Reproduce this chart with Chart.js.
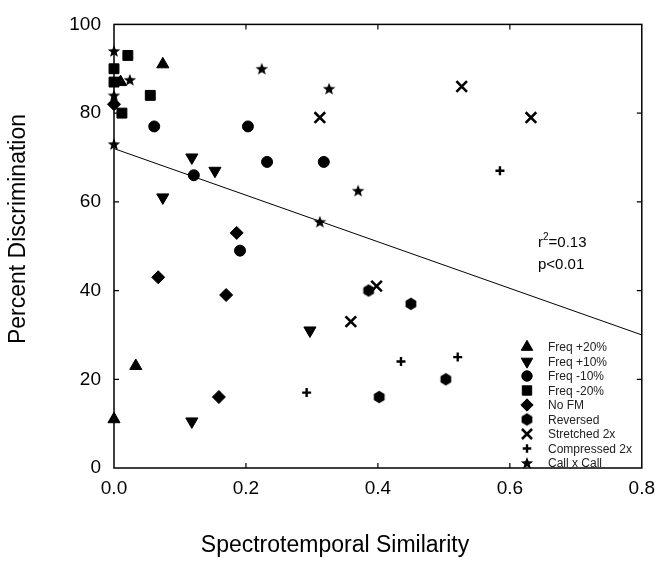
<!DOCTYPE html>
<html>
<head>
<meta charset="utf-8">
<script src="https://cdn.jsdelivr.net/npm/chart.js@4/dist/chart.umd.min.js"></script>
<style>
  html, body { margin: 0; padding: 0; background: #fff; }
  #wrap { width: 664px; height: 587px; position: relative; }
</style>
</head>
<body>
<div id="wrap"><canvas id="simChart"></canvas></div>
<script>
// Percent discrimination vs spectrotemporal similarity (scatter + regression)
const FONT = "'Liberation Sans', Arial, sans-serif";

const seriesNames = ['Freq +20%', 'Freq +10%', 'Freq -10%', 'Freq -20%', 'No FM',
  'Reversed', 'Stretched 2x', 'Compressed 2x', 'Call x Call'];

// [similarity, percent] pairs
const freqUp20 = [[0.074, 91], [0.01, 87], [0.033, 23], [0.0, 11]];
const freqUp10 = [[0.118, 70], [0.153, 67], [0.074, 61], [0.297, 31], [0.118, 10.5]];
const freqDn10 = [[0.061, 77], [0.203, 77], [0.232, 69], [0.121, 66], [0.318, 69], [0.191, 49]];
const freqDn20 = [[0.021, 93], [0.0, 90], [0.0, 87], [0.055, 84], [0.012, 80]];
const noFM = [[0.0, 82], [0.186, 53], [0.067, 43], [0.17, 39], [0.159, 16]];
const reversed = [[0.386, 40], [0.45, 37], [0.503, 20], [0.402, 16]];
const stretched = [[0.527, 86], [0.312, 79], [0.632, 79], [0.398, 41], [0.359, 33]];
const compressed = [[0.585, 67], [0.435, 24], [0.521, 25], [0.292, 17]];
const callXCall = [[0.0, 94], [0.024, 87.5], [0.0, 84], [0.0, 73], [0.224, 90],
  [0.326, 85.5], [0.37, 62.5], [0.312, 55.5]];

// regression line end points
const fitX = [0, 0.8];
const fitY = [72, 30];

const xTicks = [0, 0.2, 0.4, 0.6, 0.8];
const yTicks = [0, 20, 40, 60, 80, 100];

function shapeCanvas(size, draw) {
  const c = document.createElement('canvas');
  c.width = size; c.height = size;
  const g = c.getContext('2d');
  g.fillStyle = '#000';
  draw(g, size / 2);
  return c;
}

// filled five point star
const starImg = shapeCanvas(16, (g, m) => {
  g.beginPath();
  for (let i = 0; i < 10; i++) {
    const r = i % 2 ? 2.8 : 6.6;
    const a = -Math.PI / 2 + i * Math.PI / 5;
    g.lineTo(m + r * Math.cos(a), m + 0.5 + r * Math.sin(a));
  }
  g.closePath();
  g.fill();
});

// filled hexagon (Reversed)
const hexImg = shapeCanvas(14, (g, m) => {
  g.beginPath();
  for (let i = 0; i < 6; i++) {
    const a = -Math.PI / 2 + i * Math.PI / 3;
    g.lineTo(m + 6.2 * Math.cos(a), m + 6.2 * Math.sin(a));
  }
  g.closePath();
  g.fill();
});

const styles = [
  { pointStyle: 'triangle', radius: 7, rotation: 0, borderWidth: 1 },
  { pointStyle: 'triangle', radius: 7, rotation: 180, borderWidth: 1 },
  { pointStyle: 'circle', radius: 5.5, rotation: 0, borderWidth: 1 },
  { pointStyle: 'rect', radius: 7, rotation: 0, borderWidth: 1 },
  { pointStyle: 'rectRot', radius: 6.5, rotation: 0, borderWidth: 1 },
  { pointStyle: hexImg, radius: 6, rotation: 0, borderWidth: 1 },
  { pointStyle: 'crossRot', radius: 7.5, rotation: 0, borderWidth: 2.6 },
  { pointStyle: 'cross', radius: 4.5, rotation: 0, borderWidth: 2.4 },
  { pointStyle: starImg, radius: 7, rotation: 0, borderWidth: 1 },
];

const seriesData = [freqUp20, freqUp10, freqDn10, freqDn20, noFM, reversed,
  stretched, compressed, callXCall];

const pointSets = seriesData.map((arr, i) => ({
  label: seriesNames[i],
  data: arr.map(([x, y]) => ({ x, y })),
  pointStyle: styles[i].pointStyle,
  pointRadius: styles[i].radius,
  pointRotation: styles[i].rotation,
  pointBorderWidth: styles[i].borderWidth,
  pointBackgroundColor: '#000',
  pointBorderColor: '#000',
  showLine: false,
  clip: false, // markers sit on the axis at x = 0
}));

// frame with inward ticks on all four sides (under the markers)
const framePlugin = {
  id: 'frame',
  beforeDatasetsDraw(chart) {
    const { ctx, chartArea: a, scales } = chart;
    ctx.save();
    ctx.strokeStyle = '#000';
    ctx.lineWidth = 1.5;
    ctx.strokeRect(a.left, a.top, a.right - a.left, a.bottom - a.top);
    ctx.lineWidth = 1.2;
    ctx.beginPath();
    xTicks.slice(1, -1).forEach((v) => {
      const px = scales.x.getPixelForValue(v);
      ctx.moveTo(px, a.bottom); ctx.lineTo(px, a.bottom - 5);
      ctx.moveTo(px, a.top); ctx.lineTo(px, a.top + 5);
    });
    yTicks.slice(1, -1).forEach((v) => {
      const py = scales.y.getPixelForValue(v);
      ctx.moveTo(a.left, py); ctx.lineTo(a.left + 5, py);
      ctx.moveTo(a.right, py); ctx.lineTo(a.right - 5, py);
    });
    ctx.stroke();
    ctx.restore();
  },
};

// axis titles, legend, annotation
const decorPlugin = {
  id: 'decor',
  afterDraw(chart) {
    const { ctx } = chart;
    ctx.save();
    ctx.fillStyle = '#000';
    ctx.font = `23px ${FONT}`;
    ctx.textAlign = 'center';
    ctx.textBaseline = 'middle';
    ctx.fillText('Spectrotemporal Similarity', 335, 546);
    ctx.save();
    ctx.translate(19, 229);
    ctx.rotate(-Math.PI / 2);
    ctx.fillText('Percent Discrimination', 0, 0);
    ctx.restore();

    // r^2 / p annotation
    ctx.textAlign = 'left';
    ctx.font = `15px ${FONT}`;
    const ax = 538;
    ctx.fillText('r', ax, 243);
    const rw = ctx.measureText('r').width;
    ctx.font = `10px ${FONT}`;
    ctx.fillText('2', ax + rw, 237);
    const sw = ctx.measureText('2').width;
    ctx.font = `15px ${FONT}`;
    ctx.fillText('=0.13', ax + rw + sw, 243);
    ctx.fillText('p<0.01', ax, 265);

    // legend inside the plot
    const lx = 527, tx = 548, ly0 = 347, step = 14.5;
    chart.data.datasets.forEach((ds, i) => {
      if (i >= seriesNames.length) return;
      const y = ly0 + i * step;
      ctx.fillStyle = '#000';
      ctx.strokeStyle = '#000';
      ctx.lineWidth = styles[i].borderWidth;
      Chart.helpers.drawPoint(ctx, {
        pointStyle: styles[i].pointStyle,
        radius: styles[i].radius * 0.95,
        rotation: styles[i].rotation,
        borderWidth: styles[i].borderWidth,
      }, lx, y);
      ctx.fillStyle = '#222';
      ctx.font = `12px ${FONT}`;
      ctx.fillText(ds.label, tx, y + 1);
    });
    ctx.restore();
  },
};

new Chart(document.getElementById('simChart').getContext('2d'), {
  type: 'scatter',
  data: {
    datasets: [
      ...pointSets,
      {
        type: 'line',
        label: 'fit',
        data: fitX.map((x, i) => ({ x, y: fitY[i] })),
        borderColor: '#000',
        borderWidth: 1,
        pointRadius: 0,
        fill: false,
      },
    ],
  },
  options: {
    responsive: true,
    maintainAspectRatio: false,
    animation: false,
    layout: { padding: { left: 0, top: 15, right: 22, bottom: 0 } },
    plugins: { legend: { display: false }, tooltip: { enabled: false } },
    scales: {
      x: {
        type: 'linear',
        min: 0,
        max: 0.8,
        afterFit: (s) => { s.height = 119; },
        afterBuildTicks: (s) => { s.ticks = xTicks.map((v) => ({ value: v })); },
        grid: { display: false, drawTicks: false },
        border: { display: false },
        ticks: {
          color: '#000',
          padding: 9,
          font: { family: FONT, size: 19 },
          callback: (v) => Number(v).toFixed(1),
        },
      },
      y: {
        type: 'linear',
        min: 0,
        max: 100,
        afterFit: (s) => { s.width = 114; },
        afterBuildTicks: (s) => { s.ticks = yTicks.map((v) => ({ value: v })); },
        grid: { display: false, drawTicks: false },
        border: { display: false },
        ticks: {
          color: '#000',
          padding: 13,
          font: { family: FONT, size: 19 },
        },
      },
    },
  },
  plugins: [framePlugin, decorPlugin],
});
</script>
</body>
</html>
